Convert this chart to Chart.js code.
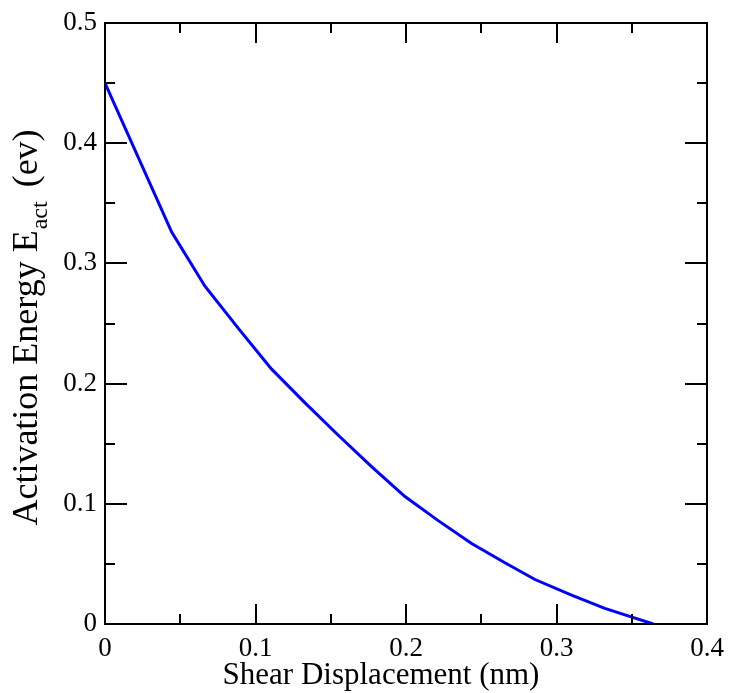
<!DOCTYPE html>
<html lang="en">
<head>
<meta charset="UTF-8">
<script src="https://cdn.jsdelivr.net/npm/chart.js"></script>
<title>Activation Energy vs Shear Displacement</title>
<style>
    html, body { margin: 0; padding: 0; background: #fff; }
</style>
</head>
<body>
<canvas id="myChart" width="730" height="693"></canvas>
<script>
// shear displacement (nm)
const displacement = [0, 0.0443, 0.0664, 0.0886, 0.1107, 0.1329, 0.155, 0.1771, 0.1993, 0.2214, 0.2436, 0.2657, 0.2857, 0.31, 0.3321, 0.3643];
// activation energy (ev)
const energy = [0.45, 0.326, 0.281, 0.246, 0.212, 0.184, 0.157, 0.131, 0.106, 0.086, 0.067, 0.051, 0.037, 0.024, 0.013, 0.0];
const xTicks = [0, 0.1, 0.2, 0.3, 0.4];
const yTicks = [0, 0.1, 0.2, 0.3, 0.4, 0.5];
const minorStep = 0.05;

const SERIF = '"Liberation Serif", "DejaVu Serif", serif';

// frame + inward ticks on all four sides (xmgrace style)
const framePlugin = {
    id: 'frame',
    afterDatasetsDraw(chart) {
        const ctx = chart.ctx;
        const a = chart.chartArea;
        const xs = chart.scales.x, ys = chart.scales.y;
        ctx.save();
        ctx.strokeStyle = '#000';
        ctx.lineWidth = 2;
        ctx.lineCap = 'butt';
        ctx.beginPath();
        for (let v = xs.min; v <= xs.max + 1e-9; v += minorStep) {
            const major = Math.abs(v / 0.1 - Math.round(v / 0.1)) < 1e-6;
            const len = major ? 20 : 10;
            const px = Math.round(xs.getPixelForValue(v));
            ctx.moveTo(px, a.bottom); ctx.lineTo(px, a.bottom - len);
            ctx.moveTo(px, a.top); ctx.lineTo(px, a.top + len);
        }
        for (let v = ys.min; v <= ys.max + 1e-9; v += minorStep) {
            const major = Math.abs(v / 0.1 - Math.round(v / 0.1)) < 1e-6;
            const len = major ? 22 : 10;
            const py = Math.round(ys.getPixelForValue(v));
            ctx.moveTo(a.left, py); ctx.lineTo(a.left + len, py);
            ctx.moveTo(a.right, py); ctx.lineTo(a.right - len, py);
        }
        ctx.stroke();
        ctx.strokeRect(a.left, a.top, a.right - a.left, a.bottom - a.top);
        ctx.restore();
    }
};

// axis titles (y one has a subscript)
const titlePlugin = {
    id: 'titles',
    afterDraw(chart) {
        const ctx = chart.ctx;
        ctx.save();
        ctx.fillStyle = '#000';
        ctx.textBaseline = 'alphabetic';

        // x title
        ctx.textAlign = 'center';
        ctx.font = '31px ' + SERIF;
        ctx.fillText('Shear Displacement (nm)', 381, 684);

        // y title
        const main = 'Activation Energy E', sub = 'act', tail = '(ev)';
        const mainFont = '36px ' + SERIF, subFont = '24px ' + SERIF;
        ctx.textAlign = 'left';
        ctx.font = mainFont;
        const w1 = ctx.measureText(main).width;
        const w3 = ctx.measureText(tail).width;
        ctx.font = subFont;
        const w2 = ctx.measureText(sub).width;
        const gap = 14;
        const total = w1 + w2 + gap + w3;
        ctx.translate(37, 328);
        ctx.rotate(-Math.PI / 2);
        let x = -total / 2;
        ctx.font = mainFont;
        ctx.fillText(main, x, 0);
        x += w1 + 1;
        ctx.font = subFont;
        ctx.fillText(sub, x, 10);
        x += w2 + gap;
        ctx.font = mainFont;
        ctx.fillText(tail, x, 0);
        ctx.restore();
    }
};

const ctx = document.getElementById('myChart');
const config = {
    type: 'line',
    data: {
        datasets: [{
            data: displacement.map((v, i) => ({ x: v, y: energy[i] })),
            borderColor: '#0000ff',
            borderWidth: 3,
            pointRadius: 0,
            tension: 0,
            fill: false
        }]
    },
    options: {
        responsive: false,
        animation: false,
        layout: { padding: { top: 23, right: 23, left: 0, bottom: 0 } },
        plugins: { legend: { display: false }, tooltip: { enabled: false } },
        scales: {
            x: {
                type: 'linear',
                min: 0, max: 0.4,
                afterBuildTicks: s => { s.ticks = xTicks.map(v => ({ value: v })); },
                afterFit: s => { s.height = 69; s.paddingLeft = 0; s.paddingRight = 0; },
                grid: { display: false, drawTicks: false },
                border: { display: false },
                ticks: {
                    color: '#000',
                    font: { family: SERIF, size: 27 },
                    padding: 9,
                    maxRotation: 0,
                    callback: v => String(+v.toFixed(1))
                }
            },
            y: {
                type: 'linear',
                min: 0, max: 0.5,
                afterBuildTicks: s => { s.ticks = yTicks.map(v => ({ value: v })); },
                afterFit: s => { s.width = 105; s.paddingTop = 0; s.paddingBottom = 0; },
                grid: { display: false, drawTicks: false },
                border: { display: false },
                ticks: {
                    color: '#000',
                    font: { family: SERIF, size: 27 },
                    padding: 8,
                    callback: v => String(+v.toFixed(1))
                }
            }
        }
    },
    plugins: [framePlugin, titlePlugin]
};
const myChart = new Chart(ctx, config);
</script>
</body>
</html>
